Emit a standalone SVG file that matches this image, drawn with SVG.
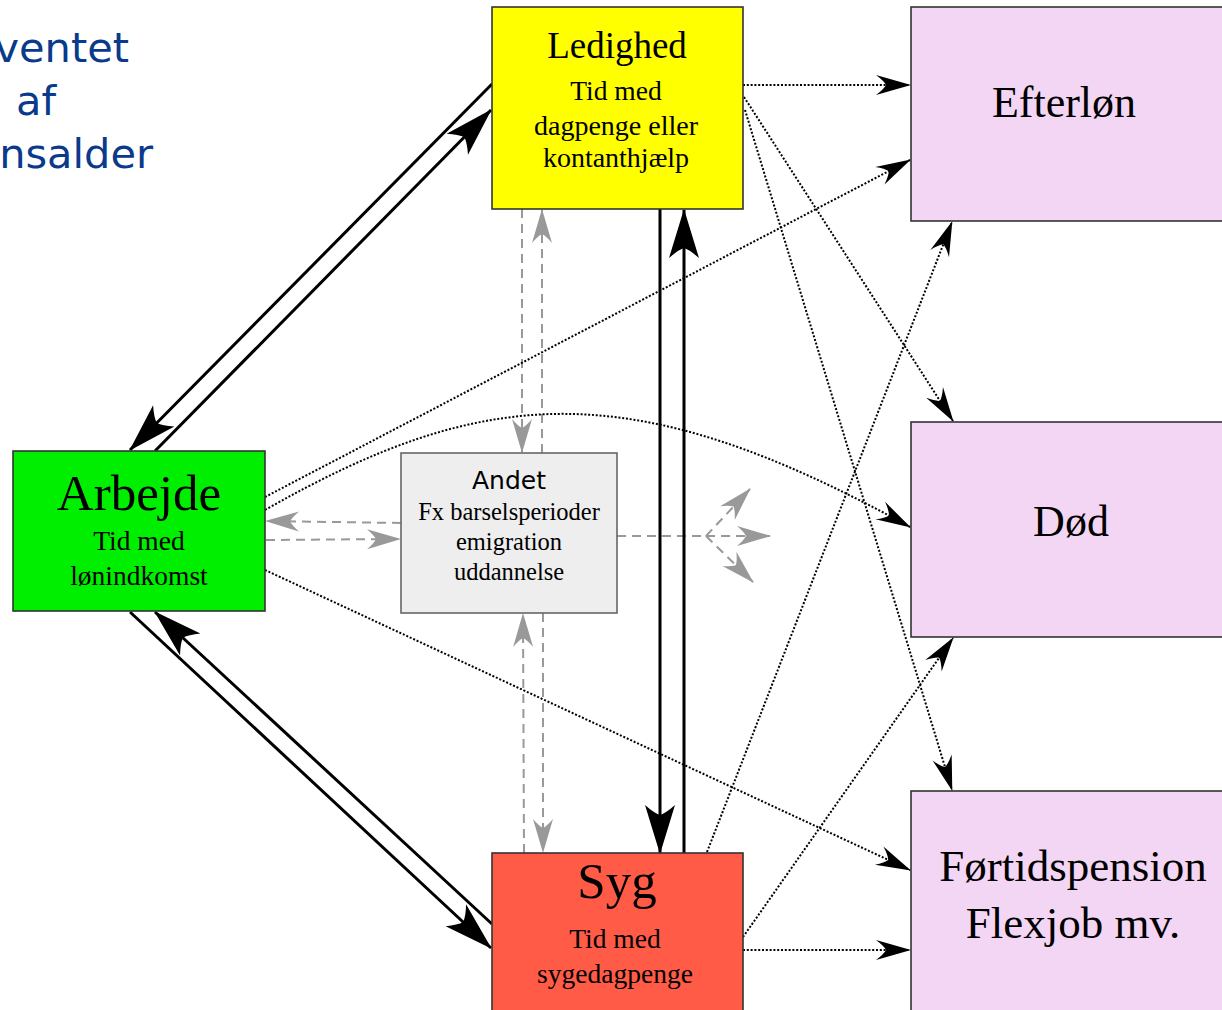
<svg xmlns="http://www.w3.org/2000/svg" width="1222" height="1010" viewBox="0 0 1222 1010">
<defs>
<style>
.box{stroke:#333;stroke-width:1.6}
.serif{font-family:"Liberation Serif","Times New Roman",serif;fill:#000;text-anchor:middle}
.sans{font-family:"DejaVu Sans",Verdana,sans-serif;fill:#000;text-anchor:middle}
.title{font-family:"DejaVu Sans",Verdana,sans-serif;fill:#0a3a8c;font-size:41.5px;text-anchor:end}
.solid{fill:none;stroke:#000;stroke-width:3;marker-end:url(#big)}
.dot{fill:none;stroke:#000;stroke-width:2;stroke-dasharray:2 1.8;marker-end:url(#dotArr)}
.dash{fill:none;stroke:#999;stroke-width:2;stroke-dasharray:9 6}
.dashA{marker-end:url(#grayArr)}
</style>
<marker id="big" markerUnits="userSpaceOnUse" orient="auto" refX="0" refY="0" markerWidth="60" markerHeight="40" overflow="visible">
<path d="M1,0 L-48,-15 Q-40,-6 -38,0 Q-40,6 -48,15 Z" fill="#000"/>
</marker>
<marker id="dotArr" markerUnits="userSpaceOnUse" orient="auto" refX="0" refY="0" markerWidth="40" markerHeight="30" overflow="visible">
<path d="M1,0 L-34,-10 Q-26,-4 -24,0 Q-26,4 -34,10 Z" fill="#000"/>
</marker>
<marker id="grayArr" markerUnits="userSpaceOnUse" orient="auto" refX="0" refY="0" markerWidth="40" markerHeight="30" overflow="visible">
<path d="M1,0 L-33,-10 Q-26,-4 -24,0 Q-26,4 -33,10 Z" fill="#999"/>
</marker>
</defs>
<rect width="1222" height="1010" fill="#fff"/>

<g id="title">
<text class="title" x="129" y="62">ventet</text>
<text class="title" x="56" y="115">af</text>
<text class="title" x="153" y="168">nsalder</text>
</g>

<g id="connectors">
<!-- gray dashed -->
<path class="dash dashA" d="M522,209 L522,452"/>
<path class="dash dashA" d="M542,453 L542,210"/>
<path class="dash dashA" d="M543,613 L543,852"/>
<path class="dash dashA" d="M524,853 L523,614"/>
<path class="dash dashA" d="M401,523 L266,521"/>
<path class="dash dashA" d="M266,540 L400,539"/>
<path class="dash" d="M617,536 L706,536"/>
<path class="dash dashA" d="M706,536 L770,536"/>
<path class="dash dashA" d="M706,536 L750,489"/>
<path class="dash dashA" d="M706,536 L753,582"/>
<!-- dotted -->
<path class="dot" d="M743,85 L910,85"/>
<path class="dot" d="M744,97 L953,421"/>
<path class="dot" d="M745,110 L952,790"/>
<path class="dot" d="M265,497 L910,160"/>
<path class="dot" d="M265,510 C485,385 631,373 910,527"/>
<path class="dot" d="M265,570 L910,870"/>
<path class="dot" d="M707,852 L952,222"/>
<path class="dot" d="M743,937 L953,638"/>
<path class="dot" d="M743,950 L910,950"/>
<!-- solid -->
<path class="solid" d="M492,84 L130,450"/>
<path class="solid" d="M155,451 L491,110"/>
<path class="solid" d="M130,612 L491,948"/>
<path class="solid" d="M492,924 L155,612"/>
<path class="solid" d="M660,209 L660,853"/>
<path class="solid" d="M684,853 L684,210"/>
</g>

<g id="ledighed">
<rect class="box" x="492" y="7" width="251" height="202" fill="#ffff00"/>
<text class="serif" x="617" y="58" font-size="37">Ledighed</text>
<text class="serif" x="616" y="100" font-size="27.5">Tid med</text>
<text class="serif" x="616" y="135" font-size="28">dagpenge eller</text>
<text class="serif" x="616" y="167" font-size="28">kontanthjælp</text>
</g>

<g id="arbejde">
<rect class="box" x="13" y="451" width="252" height="160" fill="#00ee00"/>
<text class="serif" x="139" y="510" font-size="51">Arbejde</text>
<text class="serif" x="139" y="550" font-size="27.5">Tid med</text>
<text class="serif" x="139" y="585" font-size="27.5">lønindkomst</text>
</g>

<g id="andet">
<rect x="401" y="453" width="216" height="160" fill="#eeeeee" stroke="#666" stroke-width="1.6"/>
<text class="sans" x="509" y="489" font-size="25">Andet</text>
<text class="serif" x="509" y="520" font-size="24.5">Fx barselsperioder</text>
<text class="serif" x="509" y="550" font-size="24.5">emigration</text>
<text class="serif" x="509" y="580" font-size="24.5">uddannelse</text>
</g>

<g id="syg">
<rect class="box" x="492" y="853" width="251" height="170" fill="#ff5b47"/>
<text class="serif" x="617" y="898" font-size="51">Syg</text>
<text class="serif" x="615" y="948" font-size="27.5">Tid med</text>
<text class="serif" x="615" y="983" font-size="27.5">sygedagpenge</text>
</g>

<g id="efterlon">
<rect class="box" x="911" y="7" width="330" height="214" fill="#f3d6f3"/>
<text class="serif" x="1064" y="117" font-size="44">Efterløn</text>
</g>

<g id="dod">
<rect class="box" x="911" y="422" width="330" height="215" fill="#f3d6f3"/>
<text class="serif" x="1071" y="536" font-size="44">Død</text>
</g>

<g id="fortid">
<rect class="box" x="911" y="791" width="330" height="240" fill="#f3d6f3"/>
<text class="serif" x="1073" y="881" font-size="45">Førtidspension</text>
<text class="serif" x="1073" y="938" font-size="45">Flexjob mv.</text>
</g>
</svg>
